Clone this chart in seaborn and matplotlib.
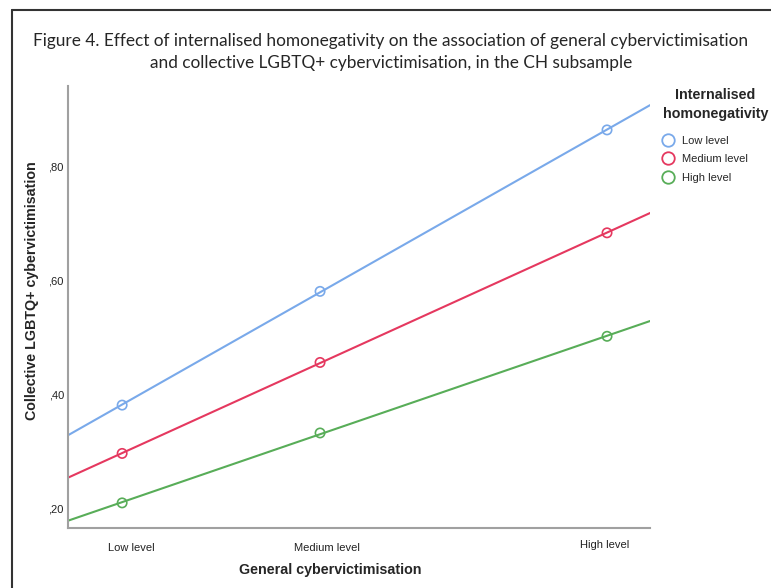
import seaborn as sns
import matplotlib.pyplot as plt
from matplotlib.lines import Line2D
from matplotlib.transforms import ScaledTranslation
import numpy as np
import pandas as pd

# Datos
niveles_x = ["Low level", "Medium level", "High level"]
x_vals = [0.093, 0.433, 0.926]
grupos = ["Low level", "Medium level", "High level"]
y_bajo = [0.381, 0.581, 0.865]
y_medio = [0.296, 0.456, 0.684]
y_alto = [0.209, 0.332, 0.502]
y_ticks = [0.20, 0.40, 0.60, 0.80]
y_tick_labels = [",20", ",40", ",60", ",80"]

colores = ["#79a9ea", "#e5385f", "#58ad58"]

df = pd.DataFrame({
    "x": x_vals * 3,
    "y": y_bajo + y_medio + y_alto,
    "grupo": [g for g in grupos for _ in x_vals],
})

sns.set_theme(style="white")
plt.rcParams["font.family"] = ["Liberation Sans", "DejaVu Sans"]

fig = plt.figure(figsize=(7.71, 5.88), dpi=100)
ax = fig.add_axes([0.0882, 0.102, 0.755, 0.752])
ax.set_xlim(0, 1)
ax.set_ylim(0.1648, 0.9425)

for g, c in zip(grupos, colores):
    sub = df[df["grupo"] == g]
    sns.regplot(data=sub, x="x", y="y", ax=ax, ci=None, truncate=False,
                scatter=False, color=c, line_kws={"linewidth": 1.5})
    sns.scatterplot(data=sub, x="x", y="y", ax=ax, marker="o", s=45,
                    facecolors="none", edgecolor=c, linewidth=1.2, zorder=3)

sns.despine(ax=ax)
for s in ["left", "bottom"]:
    ax.spines[s].set_color("#a0a0a0")
    ax.spines[s].set_linewidth(1.5)

ax.set_xticks(x_vals)
ax.set_xticklabels(niveles_x, fontsize=8, color="#222222")
ax.set_yticks(y_ticks)
ax.set_yticklabels(y_tick_labels, fontsize=8, color="#222222")
ax.tick_params(axis="x", length=0, pad=11)
ax.tick_params(axis="y", length=0, pad=3)

# pequeños desplazamientos de las etiquetas como en el original
for lbl, dx, dy in zip(ax.get_xticklabels(), [9, 7, -2], [0, 0, 3]):
    lbl.set_transform(lbl.get_transform() + ScaledTranslation(dx / 100, dy / 100, fig.dpi_scale_trans))

ax.set_xlabel("General cybervictimisation", fontsize=10.3, fontweight="bold")
ax.xaxis.set_label_coords(0.45, -0.078)
ax.set_ylabel("Collective LGBTQ+ cybervictimisation", fontsize=10.3, fontweight="bold")
ax.yaxis.set_label_coords(-0.05, 0.538)

# Leyenda
handles = [Line2D([], [], marker="o", linestyle="none", markersize=9,
                  markerfacecolor="none", markeredgecolor=c, markeredgewidth=1.3)
           for c in colores]
leg = fig.legend(handles, grupos, title="Internalised\nhomonegativity",
                 loc="upper center", bbox_to_anchor=(0.928, 0.868), frameon=False,
                 fontsize=8, handlelength=1.0, handletextpad=0.7, labelspacing=0.75,
                 alignment="left")
leg.get_title().set_fontweight("bold")
leg.get_title().set_fontsize(10.3)
leg.get_title().set_multialignment("center")
leg.get_title().set_linespacing(1.45)
leg._legend_box.sep = 11  # más espacio entre título y entradas

# Título
fig.text(0.507, 0.912,
         "Figure 4. Effect of internalised homonegativity on the association of general cybervictimisation\n"
         "and collective LGBTQ+ cybervictimisation, in the CH subsample",
         ha="center", va="center", fontsize=12.4, family=["Lato", "DejaVu Sans"],
         linespacing=1.45)

# Marco
fig.add_artist(Line2D([0.0156, 1.0], [0.983, 0.983], color="#333333", linewidth=1.5))
fig.add_artist(Line2D([0.0156, 0.0156], [0.0, 0.983], color="#333333", linewidth=1.5))

fig.savefig("out.png", dpi=100)
